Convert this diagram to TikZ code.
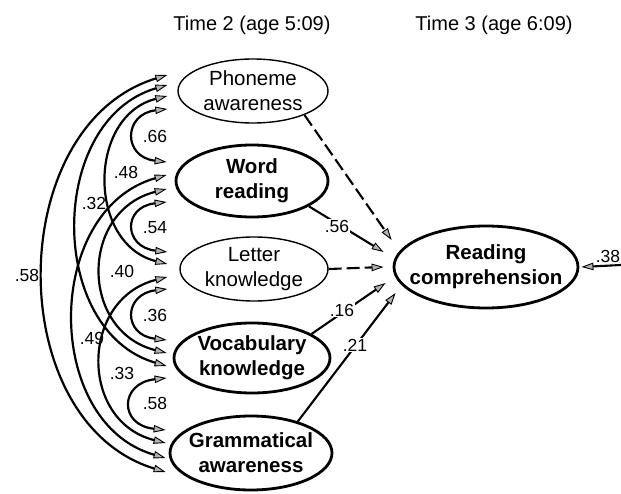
\documentclass[tikz,border=0pt]{standalone}
\usepackage{fontspec}
\setmainfont{Liberation Sans}
\usetikzlibrary{arrows.meta,shapes.geometric}
\begin{document}
\begin{tikzpicture}[x=1pt,y=1pt,
  ell/.style={draw, ellipse, inner sep=0pt, line width=1.4pt},
  bold ell/.style={ell, line width=2.8pt},
  vname/.style={align=center, inner sep=0pt, font=\fontsize{20.5}{25}\selectfont},
  bold vname/.style={vname, font=\fontsize{20.5}{25}\selectfont\bfseries},
  coef/.style={inner sep=1pt, font=\fontsize{17.5}{20}\selectfont},
  wcoef/.style={coef, fill=white},
  ctip/.tip={Triangle[length=12pt,width=7.5pt,fill=gray!60,line width=0.9pt]},
  corr/.style={line width=2.2pt, {ctip}-{ctip}},
  effect/.style={line width=2.1pt, -{ctip}},
  dasheffect/.style={effect, dash pattern=on 13pt off 5pt},
  title/.style={font=\fontsize{20}{24}\selectfont},
]
\useasboundingbox (0,0) rectangle (621,493);

% headings
\node[title] (t2) at (252,468) {Time 2 (age 5:09)};
\node[title] (t3) at (494,468) {Time 3 (age 6:09)};

% latent variables
\node[ell, minimum width=150pt, minimum height=64pt] (P) at (253,402) {};
\node[vname] (Pt) at (P) {Phoneme\\awareness};
\node[bold ell, minimum width=152pt, minimum height=72pt] (W) at (252,312) {};
\node[bold vname] (Wt) at (W) {Word\\reading};
\node[ell, minimum width=148pt, minimum height=64pt] (L) at (254,224) {};
\node[vname] (Lt) at (L) {Letter\\knowledge};
\node[bold ell, minimum width=156pt, minimum height=70pt] (V) at (252,135) {};
\node[bold vname] (Vt) at (V) {Vocabulary\\knowledge};
\node[bold ell, minimum width=162pt, minimum height=74pt] (G) at (251,40) {};
\node[bold vname] (Gt) at (G) {Grammatical\\awareness};
\node[bold ell, minimum width=184pt, minimum height=82pt] (R) at (486,226) {};
\node[bold vname] (Rt) at (R) {Reading\\comprehension};

% correlations between the Time 2 measures
\draw[corr] ([xshift=-10pt,yshift=-18pt]P.west) .. controls +(-44,-5) and +(-44,5) .. ([xshift=-8pt,yshift=19pt]W.west);
\draw[corr] ([xshift=-8pt,yshift=-21pt]W.west) .. controls +(-44,-5) and +(-44,5) .. ([xshift=-12pt,yshift=17pt]L.west);
\draw[corr] ([xshift=-12pt,yshift=-20pt]L.west) .. controls +(-44,-5) and +(-44,5) .. ([xshift=-6pt,yshift=18pt]V.west);
\draw[corr] ([xshift=-6pt,yshift=-20pt]V.west) .. controls +(-47,-5) and +(-47,5) .. ([xshift=-3pt,yshift=23pt]G.west);
\draw[corr] ([xshift=-10pt,yshift=-5pt]P.west) .. controls +(-80,-20) and +(-80,20) .. ([xshift=-12pt,yshift=5pt]L.west);
\draw[corr] ([xshift=-8pt,yshift=-8pt]W.west) .. controls +(-87,-22) and +(-87,22) .. ([xshift=-6pt,yshift=5pt]V.west);
\draw[corr] ([xshift=-12pt,yshift=-8pt]L.west) .. controls +(-87,-22) and +(-87,22) .. ([xshift=-3pt,yshift=10pt]G.west);
\draw[corr] ([xshift=-10pt,yshift=6pt]P.west) .. controls +(-120,-35) and +(-120,35) .. ([xshift=-6pt,yshift=-8pt]V.west);
\draw[corr] ([xshift=-8pt,yshift=6pt]W.west) .. controls +(-123,-35) and +(-123,35) .. ([xshift=-3pt,yshift=-5pt]G.west);
\draw[corr] ([xshift=-10pt,yshift=16pt]P.west) .. controls +(-164,-50) and +(-164,50) .. ([xshift=-3pt,yshift=-19pt]G.west);

\node[coef] (c66) at (155,357) {.66};
\node[coef] (c54) at (155,265) {.54};
\node[coef] (c36) at (155,178) {.36};
\node[coef] (c58a) at (155,90) {.58};
\node[coef] (c48) at (126,321) {.48};
\node[coef] (c32) at (94,290) {.32};
\node[coef] (c40) at (122,222) {.40};
\node[coef] (c49) at (92,155) {.49};
\node[coef] (c33) at (122,120) {.33};
\node[coef] (c58b) at (27,218) {.58};

% paths to reading comprehension
\draw[dasheffect] (P.-25) -- ([xshift=-1pt,yshift=27pt]R.west);
\draw[effect] (W.-24) -- ([xshift=-9pt,yshift=15pt]R.west);
\draw[dasheffect] (L.east) -- ([xshift=-9pt]R.west);
\draw[effect] (V.22) -- ([xshift=-7pt,yshift=-16pt]R.west);
\draw[effect] (G.34) -- ([xshift=3pt,yshift=-26pt]R.west);
\node[wcoef] (c56) at (337,267) {.56};
\node[wcoef] (c16) at (342,183) {.16};
\node[wcoef] (c21) at (355,148) {.21};

% residual
\coordinate (err) at (621,228);
\draw[effect] (err) -- ([xshift=2pt]R.east);
\node[coef] (c38) at (608,237) {.38};
\end{tikzpicture}
\end{document}
